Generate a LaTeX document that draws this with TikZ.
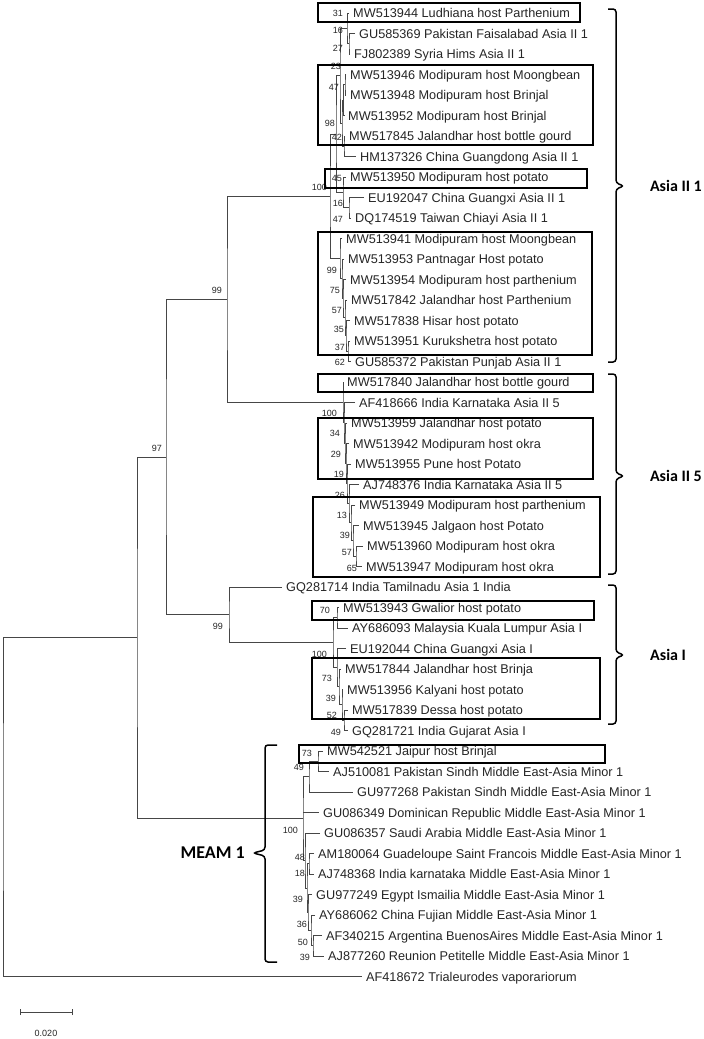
\documentclass[tikz,border=0pt]{standalone}
\usepackage{fontspec}
\setmainfont{Liberation Sans}
\newfontfamily\cladefont{Carlito}
\usetikzlibrary{calc}

% internal node: name, x, upper child, lower child
\newcommand{\mkclade}[4]{%
  \path let \p1=(#3), \p2=(#4) in coordinate (#1) at (#2pt,{(\y1+\y2)/2});
  \draw[br] (#3) -| (#1) |- (#4);}

\begin{document}
\begin{tikzpicture}[x=1pt, y=-1pt,
  br/.style={line width=0.9pt, draw=gray!55!black},
  leaf/.style={anchor=west, inner sep=0pt, text height=9pt, text depth=0pt, font=\fontsize{12.7}{14}\selectfont, text=black!85},
  bs/.style={anchor=east, inner sep=0pt, font=\fontsize{9}{10}\selectfont, text=black!85},
  box/.style={line width=2pt, draw=black},
  brace/.style={line width=1.5pt, rounded corners=3pt},
  clade/.style={inner sep=0pt, font=\cladefont\bfseries\fontsize{16}{18}\selectfont}]
\useasboundingbox[fill=white] (0,0) rectangle (704,1039);

% leaves
\foreach \i/\tx/\lab in {
  1/349/MW513944 Ludhiana host Parthenium,
  2/355/GU585369 Pakistan Faisalabad Asia II 1,
  3/350/FJ802389 Syria Hims Asia II 1,
  4/346/MW513946 Modipuram host Moongbean,
  5/346/MW513948 Modipuram host Brinjal,
  6/344/MW513952 Modipuram host Brinjal,
  7/345/MW517845 Jalandhar host bottle gourd,
  8/356/HM137326 China Guangdong Asia II 1,
  9/346/MW513950 Modipuram host potato,
  10/364/EU192047 China Guangxi Asia II 1,
  11/351/DQ174519 Taiwan Chiayi Asia II 1,
  12/342/MW513941 Modipuram host Moongbean,
  13/344/MW513953 Pantnagar Host potato,
  14/346/MW513954 Modipuram host parthenium,
  15/347/MW517842 Jalandhar host Parthenium,
  16/350/MW517838 Hisar host potato,
  17/350/MW513951 Kurukshetra host potato,
  18/351/GU585372 Pakistan Punjab Asia II 1,
  19/343/MW517840 Jalandhar host bottle gourd,
  20/355/AF418666 India Karnataka Asia II 5,
  21/347/MW513959 Jalandhar host potato,
  22/349/MW513942 Modipuram host okra,
  23/351/MW513955 Pune host Potato,
  24/359/AJ748376 India Karnataka Asia II 5,
  25/355/MW513949 Modipuram host parthenium,
  26/359/MW513945 Jalgaon host Potato,
  27/363/MW513960 Modipuram host okra,
  28/362/MW513947 Modipuram host okra,
  29/282/GQ281714 India Tamilnadu Asia 1 India,
  30/339/MW513943 Gwalior host potato,
  31/348/AY686093 Malaysia Kuala Lumpur Asia I,
  32/346/EU192044 China Guangxi Asia I,
  33/341/MW517844 Jalandhar host Brinja,
  34/343/MW513956 Kalyani host potato,
  35/348/MW517839 Dessa host potato,
  36/348/GQ281721 India Gujarat Asia I,
  37/323/MW542521 Jaipur host Brinjal,
  38/329/AJ510081 Pakistan Sindh Middle East-Asia Minor 1,
  39/353/GU977268 Pakistan Sindh Middle East-Asia Minor 1,
  40/319/GU086349 Dominican Republic Middle East-Asia Minor 1,
  41/320/GU086357 Saudi Arabia Middle East-Asia Minor 1,
  42/314/AM180064 Guadeloupe Saint Francois Middle East-Asia Minor 1,
  43/314/AJ748368 India karnataka Middle East-Asia Minor 1,
  44/312/GU977249 Egypt Ismailia Middle East-Asia Minor 1,
  45/315/AY686062 China Fujian Middle East-Asia Minor 1,
  46/322/AF340215 Argentina BuenosAires Middle East-Asia Minor 1,
  47/324/AJ877260 Reunion Petitelle Middle East-Asia Minor 1,
  48/362/AF418672 Trialeurodes vaporariorum}
{
  \coordinate (t\i) at (\tx,{13+20.5*(\i-1)});
  \node[leaf] (l\i) at ([xshift=4pt]t\i) {\lab};
}

% Asia II 1
\mkclade{p2}{349}{t2}{t3}
\mkclade{p1}{347}{t1}{p2}
\mkclade{q3}{345}{t4}{t5}
\mkclade{q2}{343.5}{q3}{t6}
\mkclade{q4}{344}{t7}{t8}
\mkclade{q1}{342}{q2}{q4}
\mkclade{g1}{340}{p1}{q1}
\mkclade{h1}{349}{t10}{t11}
\mkclade{g2}{343}{t9}{h1}
\mkclade{a1}{336}{g1}{g2}
\mkclade{s6}{348}{t17}{t18}
\mkclade{s5}{346}{t16}{s6}
\mkclade{s4}{345}{t15}{s5}
\mkclade{s3}{343}{t14}{s4}
\mkclade{s2}{342}{t13}{s3}
\mkclade{s1}{340}{t12}{s2}
\mkclade{a0}{330}{a1}{s1}
% Asia II 5
\mkclade{m7}{356}{t27}{t28}
\mkclade{m6}{353}{t26}{m7}
\mkclade{m5}{351}{t25}{m6}
\mkclade{m4}{349}{t24}{m5}
\mkclade{m3}{347}{t23}{m4}
\mkclade{m2}{346}{t22}{m3}
\mkclade{m1}{345}{t21}{m2}
\mkclade{xa}{344}{t20}{m1}
\mkclade{a5}{343}{t19}{xa}
% Asia I
\mkclade{k1}{337}{t30}{t31}
\mkclade{k5}{344}{t35}{t36}
\mkclade{k4}{342}{t34}{k5}
\mkclade{k3}{339}{t33}{k4}
\mkclade{k2}{337}{t32}{k3}
\mkclade{i0}{333}{k1}{k2}
\mkclade{nA1}{229}{t29}{i0}
% MEAM 1
\mkclade{u1}{318}{t37}{t38}
\mkclade{u0}{309}{u1}{t39}
\mkclade{w1}{309}{t42}{t43}
\mkclade{w3}{313}{t46}{t47}
\mkclade{w2}{311}{t45}{w3}
\mkclade{w4}{308}{t44}{w2}
\mkclade{w0}{307}{w1}{w4}
\mkclade{v0}{305}{t41}{w0}
\mkclade{m0}{303}{u0}{v0}
\draw[br] (m0 |- t40) -- (t40);
% backbone
\mkclade{nA2}{227}{a0}{a5}
\mkclade{n97}{166}{nA2}{nA1}
\mkclade{nin}{137}{n97}{m0}
\mkclade{root}{3}{nin}{t48}

% bootstrap values
\foreach \bx/\by/\bv [count=\k] in {
  343/13/31, 343/30/16, 343/48/27, 341/66/23, 339/87/47, 335/123/98,
  342/137/42, 342/178/45, 327/187/100, 343/203/16, 343/219/47,
  337/270/99, 340/290/75, 342/310/57, 344/329/35, 345/347/37, 345/362/62,
  337/413/100, 340/433/34, 341/454/29, 344/474/19, 345/495/26, 347/515/13,
  350/535/39, 352/552/57, 357/568/65,
  330/610/70, 327/654/100, 332/678/73, 336/698/39, 337/715/52, 341/732/49,
  312/753/73, 304/767/49, 298/830/100, 305/857/48, 305/873/18, 303/899/39,
  307/924/36, 308/942/50, 310/957/39,
  162/448/97, 222/290/99, 223/626/99}
  \node[bs] (b\k) at (\bx,\by) {\bv};

% boxes
\draw[box] (318,3) rectangle (580,22);
\draw[box] (318,65) rectangle (593,145);
\draw[box] (325,169) rectangle (587,188);
\draw[box] (318,232) rectangle (592,355);
\draw[box] (318,374) rectangle (593,392);
\draw[box] (318,418) rectangle (593,479);
\draw[box] (313,497) rectangle (600,577);
\draw[box] (312,601) rectangle (594,620);
\draw[box] (312,658) rectangle (600,719);
\draw[box] (299,745) rectangle (605,763);

% braces
\draw[brace] (608,9) -- (616,9) -- (616,183) -- (624,186) -- (616,189) -- (616,362) -- (608,362);
\draw[brace] (608,374) -- (616,374) -- (616,473) -- (624,476) -- (616,479) -- (616,574) -- (608,574);
\draw[brace] (608,585) -- (616,585) -- (616,652) -- (624,655) -- (616,658) -- (616,724) -- (608,724);
\draw[brace] (277,745) -- (265,745) -- (265,850) -- (253,853) -- (265,856) -- (265,962) -- (277,962);
\node[clade, anchor=east] (c1) at (702,186) {Asia II 1};
\node[clade, anchor=east] (c2) at (702,476) {Asia II 5};
\node[clade, anchor=west] (c3) at (650,655) {Asia I};
\node[clade, anchor=east, font=\cladefont\bfseries\fontsize{18}{20}\selectfont] (c4) at (245,853) {MEAM 1};

% scale bar
\coordinate (sb1) at (20,1012);
\coordinate (sb2) at (72,1012);
\draw[br] (sb1) -- (sb2);
\draw[br] ([yshift=-3pt]sb1) -- ([yshift=3pt]sb1);
\draw[br] ([yshift=-3pt]sb2) -- ([yshift=3pt]sb2);
\node[bs, anchor=center] (sbl) at (46,1033) {0.020};
\end{tikzpicture}
\end{document}
